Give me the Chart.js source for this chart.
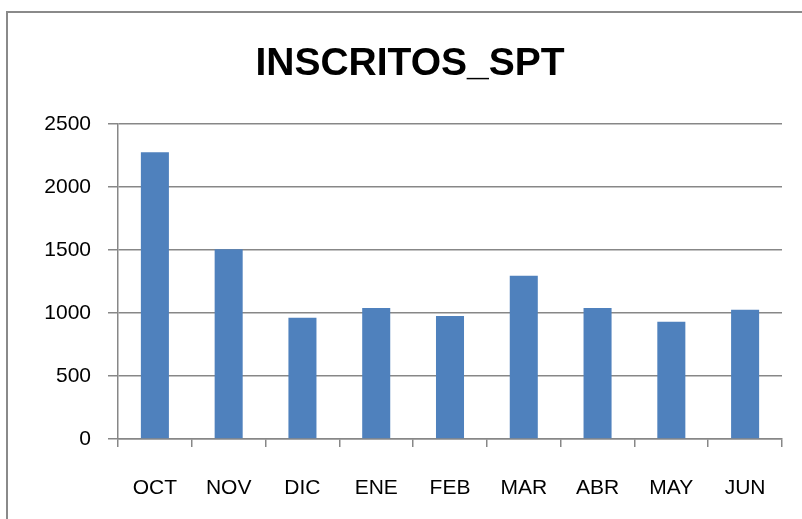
<!DOCTYPE html>
<html>
<head>
<meta charset="utf-8">
<script src="https://cdn.jsdelivr.net/npm/chart.js@4/dist/chart.umd.min.js"></script>
<style>
  html, body { margin: 0; padding: 0; background: #fff; overflow: hidden; }
  #wrap { position: relative; width: 802px; height: 519px; overflow: hidden; }
  #frame { position: absolute; left: 6px; top: 11px; width: 900px; height: 700px; border: 2px solid #8a8a8a; box-sizing: border-box; }
  canvas { position: absolute; left: 0; top: 0; }
</style>
</head>
<body>
<div id="wrap">
  <div id="frame"></div>
  <canvas id="c" width="802" height="519"></canvas>
</div>
<script>
const chartTitle = "INSCRITOS_SPT";
const categories = ["OCT", "NOV", "DIC", "ENE", "FEB", "MAR", "ABR", "MAY", "JUN"];
const inscritos = [2275, 1505, 962, 1040, 975, 1295, 1040, 930, 1025];
const yTicks = [0, 500, 1000, 1500, 2000, 2500];

const gridColor = '#878787';
const fontFamily = '"Liberation Sans", Arial, sans-serif';

new Chart(document.getElementById('c'), {
  type: 'bar',
  data: {
    labels: categories,
    datasets: [{
      label: chartTitle,
      data: inscritos,
      backgroundColor: '#4F81BD',
      borderWidth: 0,
      barPercentage: 0.38,
      categoryPercentage: 1.0
    }]
  },
  options: {
    responsive: false,
    animation: false,
    devicePixelRatio: 1,
    layout: { padding: { left: 38, right: 20, top: 0, bottom: 0 } },
    plugins: {
      legend: { display: false },
      tooltip: { enabled: false },
      title: {
        display: true,
        text: chartTitle,
        color: '#000',
        font: { family: fontFamily, size: 39, weight: 'bold' },
        padding: { top: 41, bottom: 36 }
      }
    },
    scales: {
      x: {
        offset: true,
        grid: { display: true, drawOnChartArea: false, drawTicks: true, tickLength: 8, color: gridColor, lineWidth: 1.5, offset: true },
        border: { display: true, color: gridColor, width: 1.5 },
        ticks: { color: '#000', font: { family: fontFamily, size: 21 }, padding: 29, maxRotation: 0 },
        afterFit: function(scale) { scale.height = 80; }
      },
      y: {
        min: 0,
        max: 2500,
        afterBuildTicks: function(scale) { scale.ticks = yTicks.map(v => ({ value: v })); },
        grid: { color: gridColor, lineWidth: 1.5, tickLength: 10, drawTicks: true },
        border: { display: true, color: gridColor, width: 1.5 },
        ticks: { color: '#000', font: { family: fontFamily, size: 21 }, padding: 17, callback: function(v) { return String(v); } },
        afterFit: function(scale) { scale.width = 80; }
      }
    }
  }
});
</script>
</body>
</html>
